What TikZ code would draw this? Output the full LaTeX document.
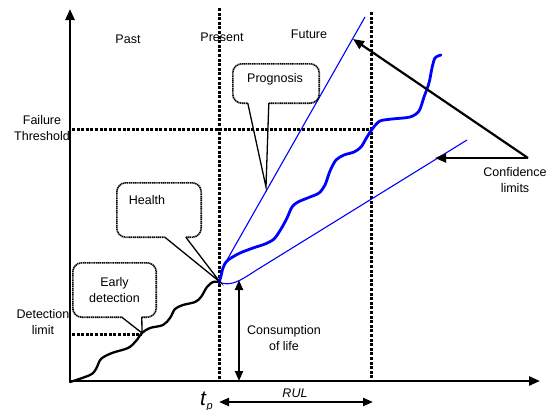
\documentclass[tikz,border=0pt]{standalone}
\usepackage{fontspec}
\setmainfont{Liberation Sans}
\usetikzlibrary{arrows.meta}
\begin{document}
\begin{tikzpicture}[x=1pt,y=-1pt,
  lbl/.style={font=\fontsize{12.5}{16.5}\selectfont, align=center, inner sep=0pt},
  axisline/.style={line width=2.5pt, line join=miter},
  guide/.style={line width=3pt, dash pattern=on 3pt off 1.6pt},
  border/.style={line width=1.6pt, dash pattern=on 1.3pt off 0.6pt, rounded corners=9pt},
  pointer/.style={line width=1.3pt, line join=miter},
  boxshape/.style={rectangle, inner sep=0pt, font=\fontsize{12.5}{16.5}\selectfont, align=center},
  conf/.style={line width=2.2pt, -{Triangle[length=11pt,width=9pt]}},
  dbl/.style={line width=2.2pt, {Triangle[length=10pt,width=8pt]}-{Triangle[length=10pt,width=8pt]}},
  health/.style={line width=2.3pt, line cap=round, line join=round},
  pred/.style={blue, line width=2.8pt, line cap=round, line join=round},
  bound/.style={blue, line width=1.1pt},
]
\useasboundingbox (0,0) rectangle (555,410);

% text labels
\node[lbl] (past) at (128,39) {Past};
\node[lbl] (present) at (222,37) {Present};
\node[lbl] (future) at (309,34) {Future};
\node[lbl] (fail) at (42,128) {Failure\\Threshold};
\node[lbl] (detl) at (43,322) {Detection\\limit};
\node[lbl] (confl) at (515,180) {Confidence\\limits};
\node[lbl] (cons) at (284,338) {Consumption\\of life};
\node[lbl, font=\fontsize{12.5}{16.5}\selectfont\itshape] (rul) at (295,393) {RUL};
\node[anchor=base west, inner sep=0pt] (tp) at (200,405) {\fontsize{21}{21}\selectfont\itshape t\kern0.6pt\raisebox{-4pt}{\fontsize{11}{11}\selectfont p}};

% coordinates
\coordinate (O) at (70,381);
\coordinate (ytop) at (70,9);
\coordinate (xend) at (540,381);
\coordinate (prtop) at (219,8);
\coordinate (prbot) at (219,381);
\coordinate (futop) at (371,12);
\coordinate (fubot) at (371,381);
\coordinate (thrL) at (72,129);
\coordinate (thrR) at (372,129);
\coordinate (detL) at (72,334);
\coordinate (detR) at (142,334);
\coordinate (now) at (219,282);

% guide lines
\draw[guide] (prtop) -- (prbot);
\draw[guide] (futop) -- (fubot);
\draw[guide] (thrL) -- (thrR);
\draw[guide] (detL) -- (detR);

% axes
\draw[axisline, {Triangle[length=11pt,width=9pt]}-{Triangle[length=11pt,width=9pt]}] (ytop) -- (O) -- (xend);

% health curve (past)
\draw[health] plot[smooth, tension=0.55] coordinates {(70,382) (90,375) (96,369) (101,359) (112,353) (128,348) (136,341) (142,333) (150,328) (163,325) (170,318) (175,309) (183,305) (195,302) (201,297) (207,287) (213,282) (220,282)};

% confidence bounds
\draw[bound] (now) .. controls (221,274) and (223,268) .. (227,260) -- (365,17);
\draw[bound] (now) .. controls (230,287) and (240,281) .. (255,271) -- (467,140);

% predicted curve
\draw[pred] plot[smooth, tension=0.5] coordinates {(219,283) (221,276) (223,268) (226,262) (231,258) (240,253) (253,248) (265,244) (274,239) (281,229) (287,218) (292,207) (298,202) (310,197) (319,193) (325,185) (330,171) (336,160) (344,155) (354,152) (361,147) (367,137) (373,128) (380,121) (392,119) (410,117) (419,111) (424,97) (429,83) (432,68) (435,58) (441,55)};

% callouts
\node[boxshape, minimum width=83pt, minimum height=54pt] (edbox) at (114.5,290) {Early\\detection};
\coordinate (edtip) at (142,333);
\draw[border] ([xshift=69pt]edbox.south west) -- (edbox.south east) -- (edbox.north east) -- (edbox.north west) -- (edbox.south west) -- ([xshift=49pt]edbox.south west);
\draw[pointer] ([xshift=49pt]edbox.south west) -- (edtip) -- ([xshift=69pt]edbox.south west);

\node[boxshape, minimum width=84pt, minimum height=54pt] (hbox) at (159,210) {};
\node[lbl] (htext) at (147,200) {Health};
\coordinate (htip) at (220,282);
\draw[border] ([xshift=69pt]hbox.south west) -- (hbox.south east) -- (hbox.north east) -- (hbox.north west) -- (hbox.south west) -- ([xshift=48pt]hbox.south west);
\draw[pointer] ([xshift=48pt]hbox.south west) -- (htip) -- ([xshift=69pt]hbox.south west);

\node[boxshape, minimum width=86pt, minimum height=39pt] (pbox) at (276,83.5) {};
\node[lbl] (ptext) at (275,79) {Prognosis};
\coordinate (ptip) at (266,187);
\draw[border] ([xshift=36pt]pbox.south west) -- (pbox.south east) -- (pbox.north east) -- (pbox.north west) -- (pbox.south west) -- ([xshift=15pt]pbox.south west);
\draw[pointer] ([xshift=15pt]pbox.south west) -- (ptip) -- ([xshift=36pt]pbox.south west);

% confidence arrows
\coordinate (cv) at (528,158);
\coordinate (upTip) at (353,39);
\coordinate (loTip) at (435,158);
\draw[conf] (cv) -- (upTip);
\draw[conf] (cv) -- (loTip);

% consumption of life and RUL arrows
\coordinate (cTop) at (239,280);
\coordinate (cBot) at (239,381);
\draw[dbl] (cTop) -- (cBot);
\coordinate (rL) at (219,402);
\coordinate (rR) at (373,402);
\draw[dbl] (rL) -- (rR);
\end{tikzpicture}
\end{document}
